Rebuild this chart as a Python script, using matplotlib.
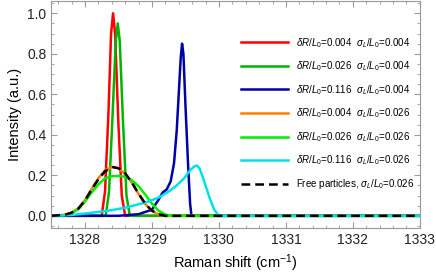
import matplotlib
matplotlib.use("Agg")
import matplotlib.pyplot as plt
from matplotlib.ticker import MultipleLocator

plt.rcParams['font.family'] = ['Liberation Sans', 'DejaVu Sans']
plt.rcParams['mathtext.fontset'] = 'custom'
plt.rcParams['mathtext.rm'] = 'Liberation Sans'
plt.rcParams['mathtext.it'] = 'Liberation Sans:italic'

# curves (Raman shift, intensity)
red_x = [1327.5, 1328.25, 1328.30, 1328.35, 1328.39, 1328.42, 1328.45, 1328.50, 1328.55, 1328.60, 1333.0]
red_y = [0, 0, 0.12, 0.50, 0.90, 1.00, 0.90, 0.45, 0.10, 0, 0]

dgreen_x = [1327.5, 1328.31, 1328.36, 1328.41, 1328.46, 1328.49, 1328.52, 1328.57, 1328.62, 1328.67, 1333.0]
dgreen_y = [0, 0, 0.12, 0.48, 0.86, 0.95, 0.86, 0.45, 0.10, 0, 0]

blue_x = [1327.5, 1328.5, 1328.8, 1329.0, 1329.1, 1329.16, 1329.22, 1329.28, 1329.33, 1329.37,
          1329.40, 1329.43, 1329.45, 1329.47, 1329.50, 1329.54, 1329.57, 1329.59, 1333.0]
blue_y = [0, 0, 0.008, 0.03, 0.08, 0.115, 0.13, 0.17, 0.26, 0.42,
          0.60, 0.78, 0.85, 0.80, 0.55, 0.25, 0.06, 0, 0]

orange_x = [1327.5, 1327.7, 1327.8, 1327.9, 1328.0, 1328.1, 1328.2, 1328.3, 1328.41, 1328.5,
            1328.6, 1328.7, 1328.8, 1328.9, 1329.0, 1329.1, 1329.2, 1333.0]
orange_y = [0, 0.005, 0.016, 0.037, 0.078, 0.133, 0.185, 0.225, 0.242, 0.235,
            0.208, 0.163, 0.108, 0.058, 0.024, 0.007, 0, 0]

lgreen_x = [1327.5, 1327.7, 1327.8, 1327.9, 1328.0, 1328.1, 1328.2, 1328.3, 1328.4, 1328.5,
            1328.6, 1328.7, 1328.8, 1328.9, 1329.0, 1329.1, 1329.2, 1329.3, 1333.0]
lgreen_y = [0, 0.004, 0.013, 0.032, 0.07, 0.115, 0.155, 0.185, 0.195, 0.197,
            0.193, 0.176, 0.146, 0.105, 0.06, 0.025, 0.006, 0, 0]

cyan_x = [1327.5, 1327.8, 1328.1, 1328.4, 1328.6, 1328.9, 1329.1, 1329.25, 1329.37, 1329.48,
          1329.57, 1329.63, 1329.67, 1329.71, 1329.76, 1329.82, 1329.87, 1329.93, 1330.0, 1333.0]
cyan_y = [0, 0.004, 0.015, 0.028, 0.04, 0.065, 0.09, 0.12, 0.15, 0.185,
          0.225, 0.243, 0.248, 0.235, 0.19, 0.13, 0.08, 0.03, 0, 0]

free_x = [1327.5, 1327.7, 1327.8, 1327.9, 1328.0, 1328.1, 1328.2, 1328.3, 1328.42, 1328.5,
          1328.6, 1328.7, 1328.8, 1328.9, 1329.0, 1329.1, 1329.2, 1333.0]
free_y = [0, 0.005, 0.015, 0.035, 0.075, 0.13, 0.18, 0.22, 0.24, 0.235,
          0.21, 0.165, 0.11, 0.06, 0.025, 0.008, 0, 0]

labels = [
    r'$\delta R/L_0$=0.004  $\sigma_L/L_0$=0.004',
    r'$\delta R/L_0$=0.026  $\sigma_L/L_0$=0.004',
    r'$\delta R/L_0$=0.116  $\sigma_L/L_0$=0.004',
    r'$\delta R/L_0$=0.004  $\sigma_L/L_0$=0.026',
    r'$\delta R/L_0$=0.026  $\sigma_L/L_0$=0.026',
    r'$\delta R/L_0$=0.116  $\sigma_L/L_0$=0.026',
    r'Free particles, $\sigma_L/L_0$=0.026',
]

fig = plt.figure(figsize=(4.36, 2.78), dpi=100)
ax = fig.add_axes([0.118, 0.18, 0.845, 0.816])

lw = 1.8
ax.plot(red_x, red_y, color='#ff0000', lw=lw, label=labels[0])
ax.plot(dgreen_x, dgreen_y, color='#00b400', lw=lw, label=labels[1])
ax.plot(blue_x, blue_y, color='#0000a8', lw=lw, label=labels[2])
ax.plot(orange_x, orange_y, color='#ff8000', lw=lw, label=labels[3])
ax.plot(lgreen_x, lgreen_y, color='#00ee00', lw=lw, label=labels[4])
ax.plot(cyan_x, cyan_y, color='#00e0e8', lw=lw, label=labels[5])
ax.plot(free_x, free_y, color='black', lw=lw, ls=(0, (3.5, 2)), label=labels[6])

ax.set_xlim(1327.5, 1333)
ax.set_ylim(-0.06, 1.06)
ax.xaxis.set_major_locator(MultipleLocator(1))
ax.xaxis.set_minor_locator(MultipleLocator(0.2))
ax.yaxis.set_major_locator(MultipleLocator(0.2))
ax.yaxis.set_minor_locator(MultipleLocator(0.05))
ax.set_xticks([1328, 1329, 1330, 1331, 1332, 1333])
ax.set_yticks([0.0, 0.2, 0.4, 0.6, 0.8, 1.0])
ax.set_yticklabels(['0.0', '0.2', '0.4', '0.6', '0.8', '1.0'])
ax.tick_params(which='both', direction='in', top=True, right=True, color='#999999',
               labelsize=10, labelcolor='#222222')
ax.tick_params(which='major', length=4, width=0.8)
ax.tick_params(which='minor', length=2, width=0.6)
for s in ax.spines.values():
    s.set_color('#999999')
    s.set_linewidth(0.8)

ax.set_xlabel(r'Raman shift (cm$^{-1}$)', fontsize=10.5, labelpad=4)
ax.set_ylabel('Intensity (a.u.)', fontsize=10.5, labelpad=4)

ax.legend(loc='upper left', bbox_to_anchor=(0.514, 0.847), frameon=False, fontsize=7,
          handlelength=4.9, handletextpad=0.8, labelspacing=1.0,
          borderaxespad=0, borderpad=0)

fig.savefig('out.png', dpi=100)
